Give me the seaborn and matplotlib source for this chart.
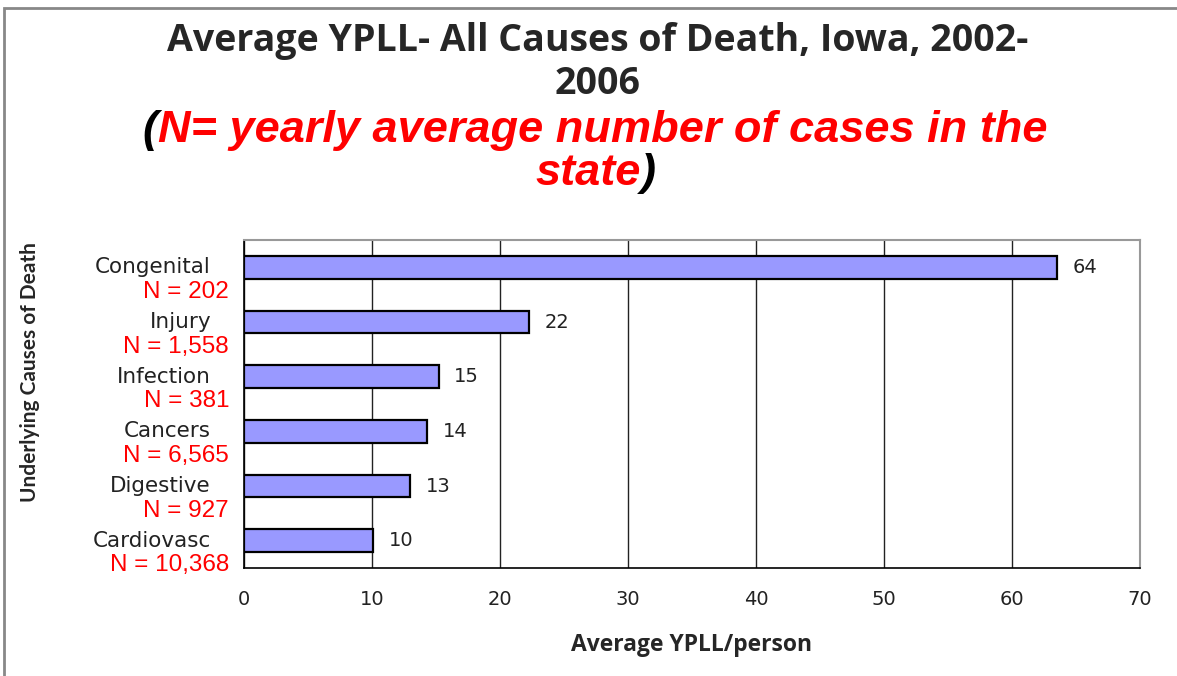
import matplotlib
matplotlib.use("Agg")
import matplotlib.pyplot as plt
import matplotlib.transforms as mtransforms
from matplotlib.patches import Rectangle
import seaborn as sns
import pandas as pd

causes = ["Congenital", "Injury", "Infection", "Cancers", "Digestive", "Cardiovasc"]
yearly_n = ["N = 202", "N = 1,558", "N = 381", "N = 6,565", "N = 927", "N = 10,368"]
avg_ypll = [63.5, 22.3, 15.2, 14.3, 13.0, 10.1]
value_labels = ["64", "22", "15", "14", "13", "10"]
x_ticks = [0, 10, 20, 30, 40, 50, 60, 70]

df = pd.DataFrame({"cause": causes, "ypll": avg_ypll})

sns.set_style("white")
plt.rcParams["font.family"] = ["DejaVu Sans"]

fig = plt.figure(figsize=(11.77, 6.76), dpi=100)
ax = fig.add_axes([244 / 1177, 1 - 568 / 676, (1140 - 244) / 1177, (568 - 240) / 676])

sns.barplot(data=df, y="cause", x="ypll", orient="h", color="#9999FF",
            saturation=1, edgecolor="black", linewidth=1.6, width=0.42, ax=ax)

ax.set_xlim(0, 70)
ax.set_ylim(5.5, -0.5)
ax.set_xticks(x_ticks)
ax.set_xticklabels([str(t) for t in x_ticks], fontsize=14, color="#222222")
ax.set_yticks([i - 0.5 for i in range(len(causes) + 1)])
ax.set_yticklabels([])
ax.tick_params(axis="x", direction="out", length=6, width=1, color="black", pad=10)
ax.tick_params(axis="y", direction="out", length=8, width=1, color="black")
ax.grid(axis="x", color="#222222", linewidth=1)
ax.set_axisbelow(True)
ax.set_ylabel("")
ax.set_xlabel("Average YPLL/person", fontsize=16.5, fontweight="bold",
              family="Open Sans", labelpad=17)

for side in ["left", "bottom"]:
    ax.spines[side].set_color("black")
    ax.spines[side].set_linewidth(1.2)
for side in ["top", "right"]:
    ax.spines[side].set_color("#999999")
    ax.spines[side].set_linewidth(1.5)

# bar value labels
for i, (v, lab) in enumerate(zip(avg_ypll, value_labels)):
    ax.text(v + 1.2, i, lab, va="center", ha="left", fontsize=14, color="#222222")

# two-line category labels: name + yearly N
trans = mtransforms.blended_transform_factory(fig.transFigure, ax.transData)
for i, (c, n) in enumerate(zip(causes, yearly_n)):
    ax.text(211 / 1177, i, c, transform=trans, ha="right", va="center",
            fontsize=15.5, color="#222222")
    ax.text(229 / 1177, i + 0.45, n, transform=trans, ha="right", va="center",
            fontsize=17.5, color="#FF0000", family="Liberation Sans")

fig.text(30 / 1177, 1 - 372 / 676, "Underlying Causes of Death", rotation=90,
         ha="center", va="center", fontsize=15, fontweight="bold", family="Lato")

# titles
fig.text(0.508, 1 - 41 / 676, "Average YPLL- All Causes of Death, Iowa, 2002-",
         ha="center", va="center", fontsize=27, fontweight="bold", family="Open Sans")
fig.text(0.508, 1 - 84 / 676, "2006",
         ha="center", va="center", fontsize=27, fontweight="bold", family="Open Sans")

sub_lines = [("N= yearly average number of cases in the", 0.512, 1 - 142 / 676, "("),
             ("state", 0.50, 1 - 185 / 676, ")")]
fig.canvas.draw()
renderer = fig.canvas.get_renderer()
for txt, x, y, paren in sub_lines:
    t = fig.text(x, y, txt, ha="center", va="baseline", fontsize=32.5,
                 fontweight="bold", style="italic", color="#FF0000",
                 family="Liberation Sans")
    bb = t.get_window_extent(renderer).transformed(fig.transFigure.inverted())
    if paren == "(":
        fig.text(bb.x0, y, paren, ha="right", va="baseline", fontsize=32.5,
                 fontweight="bold", style="italic", color="black",
                 family="Liberation Sans")
    else:
        fig.text(bb.x1, y, paren, ha="left", va="baseline", fontsize=32.5,
                 fontweight="bold", style="italic", color="black",
                 family="Liberation Sans")

# outer chart frame
fig.patches.append(Rectangle((4 / 1177, -0.1), 1.2, 1 - 8 / 676 + 0.1,
                             transform=fig.transFigure, fill=False,
                             edgecolor="#888888", linewidth=2))

fig.savefig("out.png", dpi=100)
